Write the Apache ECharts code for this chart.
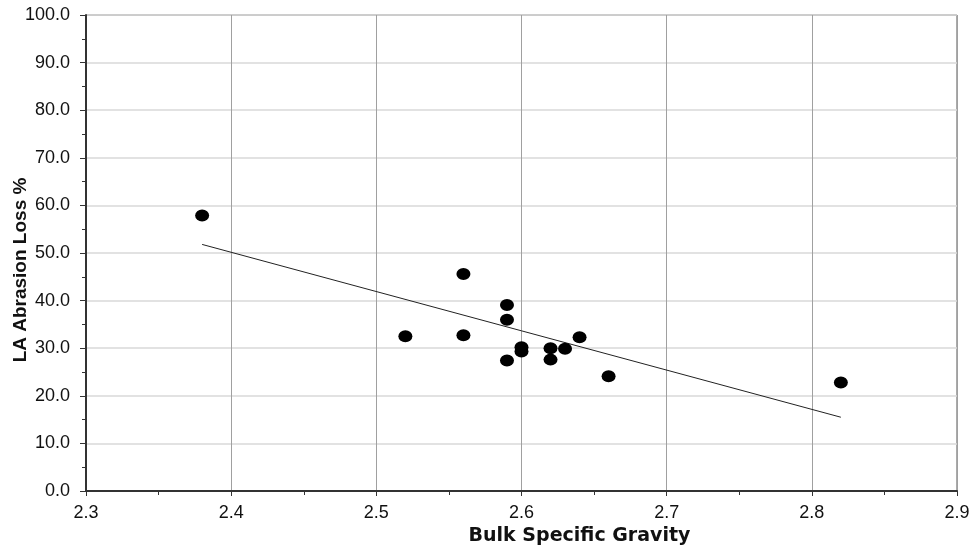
<!DOCTYPE html>
<html>
<head>
<meta charset="utf-8">
<script src="https://cdn.jsdelivr.net/npm/echarts@6/dist/echarts.min.js"></script>
<style>
  html, body { margin: 0; padding: 0; background: #fff; }
  #chart { width: 977px; height: 550px; }
</style>
</head>
<body>
<div id="chart"></div>
<script>
// bulk specific gravity vs LA abrasion loss
var gravity = [2.38, 2.52, 2.56, 2.56, 2.59, 2.59, 2.59, 2.60, 2.60, 2.62, 2.62, 2.63, 2.64, 2.66, 2.82];
var abrasion = [57.9, 32.5, 45.6, 32.7, 39.1, 36.0, 27.4, 30.2, 29.3, 30.0, 27.6, 29.9, 32.3, 24.1, 22.8];

// linear trend line end points
var trendX = [2.38, 2.82];
var trendY = [51.8, 15.5];

var points = [];
for (var i = 0; i < gravity.length; i++) {
  points.push([gravity[i], abrasion[i]]);
}
var trend = [];
for (var j = 0; j < trendX.length; j++) {
  trend.push([trendX[j], trendY[j]]);
}

var font = 'Liberation Sans, Arial, sans-serif';

var option = {
  animation: false,
  backgroundColor: '#fff',
  grid: {
    left: 86,
    right: 20,
    top: 15,
    bottom: 59,
    outerBoundsMode: 'none',
    containLabel: false,
    show: true,
    borderColor: '#555',
    borderWidth: 1
  },
  xAxis: {
    type: 'value',
    min: 2.3,
    max: 2.9,
    interval: 0.1,
    name: 'Bulk Specific Gravity',
    nameLocation: 'middle',
    nameGap: 36,
    nameMoveOverlap: false,
    nameTextStyle: {
      fontFamily: 'DejaVu Sans, sans-serif',
      fontSize: 19,
      fontWeight: 'bold',
      color: '#111',
      padding: [0, 0, 0, 116]
    },
    axisLine: { lineStyle: { color: '#333', width: 2 } },
    axisTick: { show: true, length: 5, lineStyle: { color: '#333' } },
    minorTick: { show: true, splitNumber: 2, length: 4, lineStyle: { color: '#333' } },
    axisLabel: {
      fontFamily: font,
      fontSize: 18,
      color: '#111',
      margin: 13,
      formatter: function (v) { return v.toFixed(1); }
    },
    splitLine: { show: true, lineStyle: { color: '#a0a0a0', width: 1 } }
  },
  yAxis: {
    type: 'value',
    min: 0,
    max: 100,
    interval: 10,
    name: 'LA Abrasion Loss %',
    nameLocation: 'middle',
    nameGap: 56,
    nameMoveOverlap: false,
    nameTextStyle: {
      fontFamily: font,
      fontSize: 19,
      fontWeight: 'bold',
      color: '#111',
      padding: [0, 34, 0, 0]
    },
    axisLine: { show: true, lineStyle: { color: '#333', width: 2 } },
    axisTick: { show: true, length: 6, lineStyle: { color: '#333' } },
    minorTick: { show: true, splitNumber: 2, length: 4, lineStyle: { color: '#333' } },
    axisLabel: {
      fontFamily: font,
      fontSize: 18,
      color: '#111',
      margin: 16,
      formatter: function (v) { return v.toFixed(1); }
    },
    splitLine: { show: true, lineStyle: { color: '#d9d9d9', width: 1.5 } }
  },
  series: [
    {
      name: 'Trend',
      type: 'line',
      data: trend,
      symbol: 'none',
      lineStyle: { color: '#222', width: 1 },
      z: 2
    },
    {
      name: 'Samples',
      type: 'scatter',
      data: points,
      symbol: 'circle',
      symbolSize: [14, 12],
      itemStyle: { color: '#000', opacity: 1 },
      z: 3
    }
  ]
};

var chart = echarts.init(document.getElementById('chart'));
chart.setOption(option);
</script>
</body>
</html>
